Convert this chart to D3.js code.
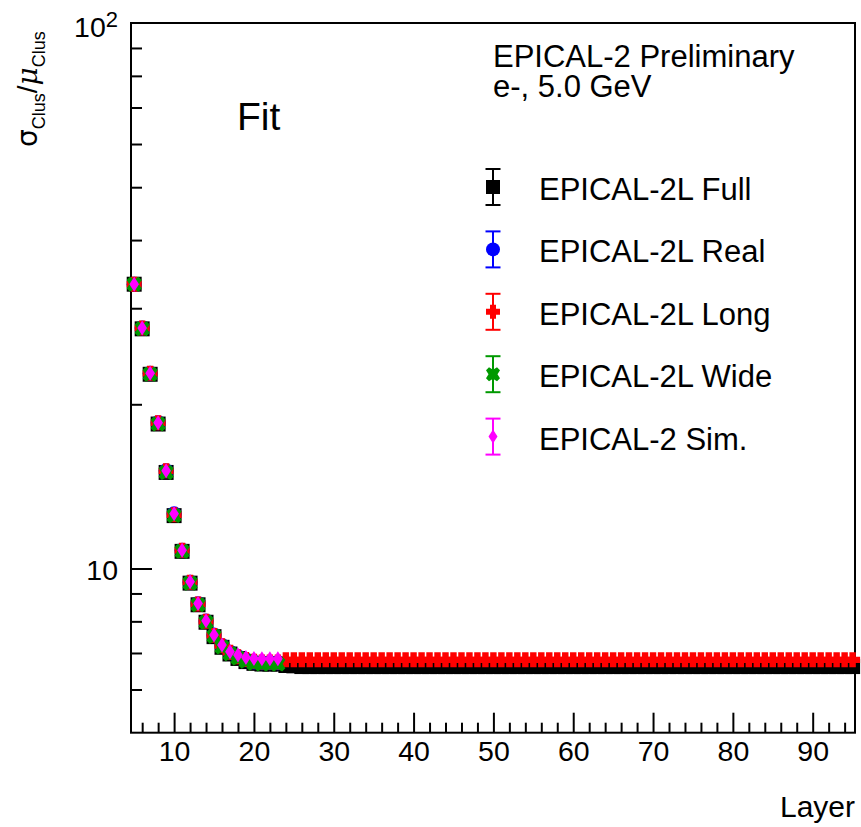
<!DOCTYPE html>
<html>
<head>
<meta charset="utf-8">
<script src="https://cdn.jsdelivr.net/npm/d3@7"></script>
<style>
  body { margin: 0; background: #fff; }
  text { font-family: "Liberation Sans", Arial, sans-serif; }
</style>
</head>
<body>
<div id="chart"></div>
<script>
// layers 5..23 are measured by every setup, 5..95 only by Full and Long
var kneeLayers = [5, 6, 7, 8, 9, 10, 11, 12, 13, 14, 15, 16, 17, 18, 19, 20, 21, 22, 23];
var allLayers = [5, 6, 7, 8, 9, 10, 11, 12, 13, 14, 15, 16, 17, 18, 19, 20, 21, 22, 23, 24,
  25, 26, 27, 28, 29, 30, 31, 32, 33, 34, 35, 36, 37, 38, 39, 40, 41, 42, 43, 44,
  45, 46, 47, 48, 49, 50, 51, 52, 53, 54, 55, 56, 57, 58, 59, 60, 61, 62, 63, 64,
  65, 66, 67, 68, 69, 70, 71, 72, 73, 74, 75, 76, 77, 78, 79, 80, 81, 82, 83, 84,
  85, 86, 87, 88, 89, 90, 91, 92, 93, 94, 95];

var fullValues = [33.2, 27.5, 22.7, 18.4, 15.0, 12.5, 10.75, 9.40, 8.58, 7.97, 7.50, 7.17, 6.97, 6.84, 6.75, 6.70, 6.68, 6.68, 6.68,
  6.64,
  6.63, 6.61, 6.61, 6.61, 6.61, 6.61, 6.61, 6.61, 6.61, 6.61, 6.61, 6.61, 6.61, 6.61, 6.61, 6.61, 6.61, 6.61, 6.61, 6.61,
  6.61, 6.61, 6.61, 6.61, 6.61, 6.61, 6.61, 6.61, 6.61, 6.61, 6.61, 6.61, 6.61, 6.61, 6.61, 6.61, 6.61, 6.61, 6.61, 6.61,
  6.61, 6.61, 6.61, 6.61, 6.61, 6.61, 6.61, 6.61, 6.61, 6.61, 6.61, 6.61, 6.61, 6.61, 6.61, 6.61, 6.61, 6.61, 6.61, 6.61,
  6.61, 6.61, 6.61, 6.61, 6.61, 6.61, 6.61, 6.61, 6.61, 6.61, 6.61];
var realValues = [33.2, 27.6, 22.8, 18.5, 15.1, 12.6, 10.8, 9.44, 8.62, 8.01, 7.55, 7.22, 7.02, 6.89, 6.80, 6.74, 6.72, 6.72, 6.72];
var longValues = [33.2, 27.6, 22.8, 18.5, 15.1, 12.55, 10.8, 9.44, 8.61, 8.00, 7.54, 7.22, 7.02, 6.89, 6.81, 6.76, 6.74, 6.74, 6.74,
  6.80,
  6.80, 6.80, 6.80, 6.80, 6.80, 6.80, 6.80, 6.80, 6.80, 6.80, 6.80, 6.80, 6.80, 6.80, 6.80, 6.80, 6.80, 6.80, 6.80, 6.80,
  6.80, 6.80, 6.80, 6.80, 6.80, 6.80, 6.80, 6.80, 6.80, 6.80, 6.80, 6.80, 6.80, 6.80, 6.80, 6.80, 6.80, 6.80, 6.80, 6.80,
  6.80, 6.80, 6.80, 6.80, 6.80, 6.80, 6.80, 6.80, 6.80, 6.80, 6.80, 6.80, 6.80, 6.80, 6.80, 6.80, 6.80, 6.80, 6.80, 6.80,
  6.80, 6.80, 6.80, 6.80, 6.80, 6.80, 6.80, 6.80, 6.80, 6.80, 6.80];
var wideValues = [33.2, 27.5, 22.7, 18.4, 15.0, 12.5, 10.75, 9.40, 8.58, 7.97, 7.51, 7.18, 6.98, 6.85, 6.76, 6.70, 6.68, 6.68, 6.68];
var simValues = [33.2, 27.6, 22.8, 18.5, 15.1, 12.6, 10.8, 9.46, 8.63, 8.02, 7.55, 7.24, 7.04, 6.94, 6.87, 6.84, 6.83, 6.83, 6.83];

var seriesNames = ["EPICAL-2L Full", "EPICAL-2L Real", "EPICAL-2L Long", "EPICAL-2L Wide", "EPICAL-2 Sim."];
var xTicks = [10, 20, 30, 40, 50, 60, 70, 80, 90];

var width = 861, height = 827;
var plotLeft = 131, plotRight = 855, plotTop = 23, plotBottom = 732.7;

// marker shapes, roughly the ROOT ones (21, 20, 34, 47, 33)
var shapes = {
  square: "M-7,-7H7V7H-7Z",
  circle: "M7,0A7,7 0 1,1 -7,0A7,7 0 1,1 7,0Z",
  cross: "M-3,-7H3V-3H7V3H3V7H-3V3H-7V-3H-3Z",
  xcross: "M-7,-4L-4,-7L0,-4.5L4,-7L7,-4L4.5,0L7,4L4,7L0,4.5L-4,7L-7,4L-4.5,0Z",
  diamond: "M0,-7L4.5,0L0,7L-4.5,0Z"
};

var series = [
  {name: seriesNames[0], x: allLayers, y: fullValues, color: "#000000", shape: shapes.square},
  {name: seriesNames[1], x: kneeLayers, y: realValues, color: "#0000ff", shape: shapes.circle},
  {name: seriesNames[2], x: allLayers, y: longValues, color: "#ff0000", shape: shapes.cross},
  {name: seriesNames[3], x: kneeLayers, y: wideValues, color: "#009900", shape: shapes.xcross},
  {name: seriesNames[4], x: kneeLayers, y: simValues, color: "#ff00ff", shape: shapes.diamond}
];

var svg = d3.select("#chart").append("svg")
  .attr("width", width)
  .attr("height", height)
  .style("background", "#fff");

var x = d3.scaleLinear().domain([4.6, 95.3]).range([plotLeft, plotRight]);
var y = d3.scaleLog().domain([5, 100]).range([plotBottom, plotTop]);

// frame
svg.append("rect")
  .attr("x", plotLeft).attr("y", plotTop)
  .attr("width", plotRight - plotLeft).attr("height", plotBottom - plotTop)
  .attr("fill", "none").attr("stroke", "#000").attr("stroke-width", 2);

// x axis: major + minor ticks pointing up
var minorX = [];
for (var t = 6; t <= 94; t += 2) if (t % 10 != 0) minorX.push(t);

svg.append("g")
  .attr("transform", "translate(0," + plotBottom + ")")
  .call(d3.axisBottom(x).tickValues(xTicks).tickSize(-20).tickPadding(8).tickFormat(d3.format("d")))
  .call(function(g){
    g.select(".domain").remove();
    g.selectAll("line").attr("stroke-width", 2);
    g.selectAll("text").attr("font-size", 28.5).attr("fill", "#000");
  });

svg.append("g")
  .attr("transform", "translate(0," + plotBottom + ")")
  .call(d3.axisBottom(x).tickValues(minorX).tickSize(-10).tickFormat(""))
  .call(function(g){
    g.select(".domain").remove();
    g.selectAll("line").attr("stroke-width", 2);
  });

// y axis: log ticks pointing right
var minorY = [6, 7, 8, 9, 20, 30, 40, 50, 60, 70, 80, 90];
svg.append("g")
  .attr("transform", "translate(" + plotLeft + ",0)")
  .call(d3.axisLeft(y).tickValues([10]).tickSize(-21).tickFormat(""))
  .call(function(g){
    g.select(".domain").remove();
    g.selectAll("line").attr("stroke-width", 2);
  });
svg.append("g")
  .attr("transform", "translate(" + plotLeft + ",0)")
  .call(d3.axisLeft(y).tickValues(minorY).tickSize(-11).tickFormat(""))
  .call(function(g){
    g.select(".domain").remove();
    g.selectAll("line").attr("stroke-width", 2);
  });

svg.append("text")
  .attr("x", 118).attr("y", y(10) + 11.5)
  .attr("text-anchor", "end").attr("font-size", 28.5)
  .text("10");

var top100 = svg.append("text")
  .attr("x", 118).attr("y", y(100) + 13.7)
  .attr("text-anchor", "end").attr("font-size", 28.5);
top100.append("tspan").text("10");
top100.append("tspan").attr("font-size", 22).attr("dy", -10).text("2");

// axis titles
svg.append("text")
  .attr("x", 855).attr("y", 816.5)
  .attr("text-anchor", "end").attr("font-size", 30)
  .text("Layer");

var yTitle = svg.append("text")
  .attr("transform", "translate(37,147) rotate(-90)")
  .attr("font-size", 28);
yTitle.append("tspan").attr("font-family", "DejaVu Sans").text("σ");
yTitle.append("tspan").attr("font-size", 18).attr("dy", 8).text("Clus");
yTitle.append("tspan").attr("dy", -8).text("/");
yTitle.append("tspan").attr("font-family", "DejaVu Serif").attr("font-style", "italic").text("μ");
yTitle.append("tspan").attr("font-size", 18).attr("dy", 8).text("Clus");

// data markers (slightly bigger than the legend ones)
series.forEach(function(s){
  svg.append("g")
    .selectAll("path")
    .data(s.x.map(function(l, i){ return {layer: l, value: s.y[i]}; }))
    .enter()
    .append("path")
    .attr("d", s.shape)
    .attr("fill", s.color)
    .attr("transform", function(d){ return "translate(" + x(d.layer) + "," + y(d.value) + ") scale(1.07)"; });
});

// header text
svg.append("text").attr("x", 493).attr("y", 66.5).attr("font-size", 31).text("EPICAL-2 Preliminary");
svg.append("text").attr("x", 493).attr("y", 96.5).attr("font-size", 31).text("e-, 5.0 GeV");

svg.append("text")
  .attr("x", 237).attr("y", 130)
  .attr("font-family", "Lato")
  .attr("font-size", 39)
  .text("Fit");

// legend
var legend = svg.append("g")
  .selectAll("g")
  .data(series)
  .enter()
  .append("g")
  .attr("transform", function(d, i){ return "translate(493," + (187 + i * 62.4) + ")"; });

legend.append("line")
  .attr("y1", -18).attr("y2", 18)
  .attr("stroke", function(d){ return d.color; }).attr("stroke-width", 2);
legend.append("line")
  .attr("x1", -7.5).attr("x2", 7.5).attr("y1", -18).attr("y2", -18)
  .attr("stroke", function(d){ return d.color; }).attr("stroke-width", 2);
legend.append("line")
  .attr("x1", -7.5).attr("x2", 7.5).attr("y1", 18).attr("y2", 18)
  .attr("stroke", function(d){ return d.color; }).attr("stroke-width", 2);
legend.append("path")
  .attr("d", function(d){ return d.shape; })
  .attr("fill", function(d){ return d.color; });
legend.append("text")
  .attr("x", 46).attr("y", 13)
  .attr("font-size", 31)
  .text(function(d){ return d.name; });
</script>
</body>
</html>
